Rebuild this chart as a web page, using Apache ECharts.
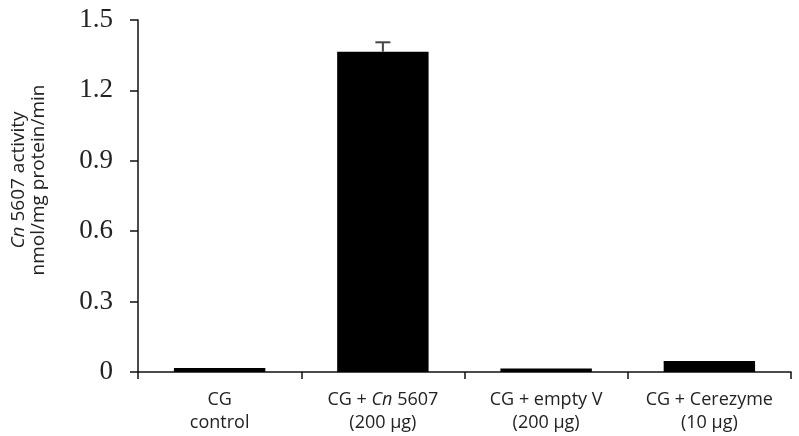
<!DOCTYPE html>
<html>
<head>
<meta charset="utf-8">
<script src="https://cdn.jsdelivr.net/npm/echarts@6/dist/echarts.min.js"></script>
<style>
  html, body { margin: 0; padding: 0; background: #fff; }
  #chart { width: 799px; height: 436px; }
</style>
</head>
<body>
<div id="chart"></div>
<script>
var groupLabels = ['CG\ncontrol', 'CG + {i|Cn} 5607\n(200 µg)', 'CG + empty V\n(200 µg)', 'CG + Cerezyme\n(10 µg)'];
var activity = [0.017, 1.365, 0.015, 0.047];
var activityErr = [0, 0.04, 0, 0];
var yTicks = [0, 0.3, 0.6, 0.9, 1.2, 1.5];

var chartDom = document.getElementById('chart');
var chart = echarts.init(chartDom);

var sans = '"Open Sans", "Noto Sans", sans-serif';
var serif = '"Liberation Serif", "DejaVu Serif", serif';

// error bar: only the upper whisker shows above the bar
var errData = [];
for (var i = 0; i < activity.length; i++) {
  errData.push([i, activity[i], activity[i] + activityErr[i]]);
}

var option = {
  animation: false,
  grid: { left: 138, right: 8, top: 20, bottom: 64, containLabel: false, outerBoundsMode: 'none' },
  xAxis: {
    type: 'category',
    data: groupLabels,
    axisLine: { lineStyle: { color: '#111', width: 1.5 } },
    axisTick: { show: true, length: 7, lineStyle: { color: '#111', width: 1.5 } },
    axisLabel: {
      interval: 0,
      margin: 16,
      color: '#222',
      fontFamily: sans,
      fontSize: 18,
      lineHeight: 23,
      rich: {
        i: { fontStyle: 'italic', fontFamily: sans, fontSize: 18, color: '#222', lineHeight: 23 }
      }
    }
  },
  yAxis: {
    type: 'value',
    min: 0,
    max: 1.5,
    interval: 0.3,
    splitLine: { show: false },
    axisLine: { show: true, lineStyle: { color: '#111', width: 1.5 } },
    axisTick: { show: true, length: 8, lineStyle: { color: '#111', width: 1.5 } },
    axisLabel: {
      margin: 25,
      color: '#222',
      fontFamily: serif,
      fontSize: 27,
      formatter: function (v) {
        var t = yTicks.filter(function (x) { return Math.abs(x - v) < 1e-9; });
        return t.length ? String(t[0]) : '';
      }
    },
    name: '{i|Cn} 5607 activity\nnmol/mg protein/min',
    nameLocation: 'middle',
    nameGap: 89,
    nameRotate: 90,
    nameTextStyle: {
      color: '#222',
      fontFamily: sans,
      fontSize: 19,
      lineHeight: 20,
      padding: [0, 0, 0, 32],
      rich: {
        i: { fontStyle: 'italic', fontFamily: sans, fontSize: 19, color: '#222', lineHeight: 20 }
      }
    }
  },
  series: [
    {
      type: 'bar',
      data: activity,
      barWidth: '56%',
      itemStyle: { color: '#000' }
    },
    {
      type: 'custom',
      data: errData,
      z: 3,
      renderItem: function (params, api) {
        var x = api.value(0);
        var lo = api.coord([x, api.value(1)]);
        var hi = api.coord([x, api.value(2)]);
        if (Math.abs(lo[1] - hi[1]) < 0.5) return null;
        var half = 7.5;
        return {
          type: 'group',
          children: [
            { type: 'line', shape: { x1: lo[0], y1: lo[1], x2: hi[0], y2: hi[1] }, style: { stroke: '#444', lineWidth: 2 } },
            { type: 'line', shape: { x1: hi[0] - half, y1: hi[1], x2: hi[0] + half, y2: hi[1] }, style: { stroke: '#444', lineWidth: 2 } }
          ]
        };
      }
    }
  ]
};

chart.setOption(option);
</script>
</body>
</html>
